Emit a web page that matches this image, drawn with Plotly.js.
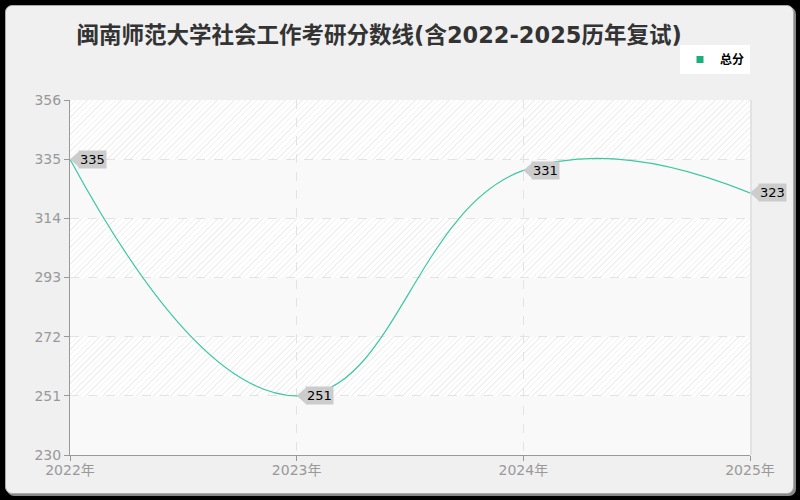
<!DOCTYPE html>
<html>
<head>
<meta charset="utf-8">
<script src="https://cdn.plot.ly/plotly-3.0.1.min.js"></script>
<style>
  body { margin: 0; background: #000; }
  #panel {
    position: absolute; left: 5px; top: 5px; width: 787px; height: 487px;
    background: #f0f0f0; border: 1px solid #aaa; border-radius: 7px;
    box-shadow: 2px 2px 0 #888;
  }
  #hatch {
    position: absolute; left: 70px; top: 100px; width: 680px; height: 355px;
    border-right: 2px solid #e2e2e2;
    background:
      linear-gradient(to bottom, rgba(248,248,248,0) 0px, rgba(248,248,248,0) 59.17px, #f9f9f9 59.17px, #f9f9f9 118.33px) 0 0 / 100% 118.33px repeat-y,
      repeating-linear-gradient(-45deg, #ffffff 0px, #ffffff 3px, #f1f1f1 3px, #f1f1f1 4px);
  }
  #chart { position: absolute; left: 0; top: 0; width: 800px; height: 500px; }
</style>
</head>
<body>
<div id="panel"></div>
<div id="hatch"></div>
<div id="chart"></div>
<script>
// 闽南师范大学 社会工作 总分
var years = [2022, 2023, 2024, 2025];
var yearLabels = ["2022年", "2023年", "2024年", "2025年"];
var scores = [335, 251, 331, 323];
var yTicks = [230, 251, 272, 293, 314, 335, 356];

var trace = {
    x: years,
    y: scores,
    name: "总分",
    type: "scatter",
    mode: "lines",
    line: {color: "#3cc8a0", width: 1.2, shape: "spline", smoothing: 1.3},
    cliponaxis: false,
    showlegend: false
};

// legend entry only (square marker)
var legendTrace = {
    x: [null],
    y: [null],
    name: "总分",
    type: "scatter",
    mode: "markers",
    marker: {symbol: "square", size: 7, color: "#1aaf7c"}
};

var labels = years.map((yr, i) => ({
    x: yr,
    y: scores[i],
    text: String(scores[i]),
    showarrow: false,
    xanchor: "left",
    yanchor: "middle",
    xshift: 8,
    bgcolor: "#cccccc",
    borderpad: 1,
    font: {family: "DejaVu Sans, sans-serif", size: 13, color: "#000"}
}));

// little pointer on the left of each label (paper x so the last one is not clipped)
var pointers = years.map((yr, i) => ({
    type: "path",
    xref: "paper", yref: "y",
    xsizemode: "pixel", ysizemode: "pixel",
    xanchor: i / (years.length - 1), yanchor: scores[i],
    path: "M 0 0 L 9 8 L 9 -8 Z",
    fillcolor: "#cccccc",
    line: {width: 0},
    layer: "above"
}));

var layout = {
    width: 800,
    height: 500,
    paper_bgcolor: "rgba(0,0,0,0)",
    plot_bgcolor: "rgba(0,0,0,0)",
    margin: {l: 70, r: 50, t: 100, b: 45},
    title: {
        text: "<b>闽南师范大学社会工作考研分数线(含2022-2025历年复试)</b>",
        x: 0.474,
        xanchor: "center",
        y: 0.945,
        font: {family: "DejaVu Sans, Noto Sans CJK SC", size: 22.5, color: "#333"}
    },
    showlegend: true,
    legend: {
        x: 1, xanchor: "right", y: 1.155, yanchor: "top",
        bgcolor: "#ffffff",
        font: {family: "Noto Sans CJK SC", size: 12, color: "#000", weight: "bold"},
        itemwidth: 30
    },
    xaxis: {
        range: [2022, 2025],
        tickvals: years,
        ticktext: yearLabels,
        showgrid: true,
        gridcolor: "#e3e3e3",
        griddash: "dash",
        showline: true,
        linecolor: "#999",
        ticks: "outside",
        ticklen: 5,
        tickcolor: "#999",
        zeroline: false,
        ticklabelstandoff: -3,
        tickfont: {family: "DejaVu Sans, Noto Sans CJK SC", size: 14, color: "#999"}
    },
    yaxis: {
        range: [230, 356],
        tickvals: yTicks,
        showgrid: true,
        gridcolor: "#e3e3e3",
        griddash: "dash",
        showline: true,
        linecolor: "#999",
        ticks: "outside",
        ticklen: 5,
        tickcolor: "#999",
        zeroline: false,
        tickfont: {family: "DejaVu Sans, Noto Sans CJK SC", size: 14, color: "#999"}
    },
    shapes: pointers,
    annotations: labels
};

Plotly.newPlot("chart", [trace, legendTrace], layout, {displayModeBar: false});
</script>
</body>
</html>
